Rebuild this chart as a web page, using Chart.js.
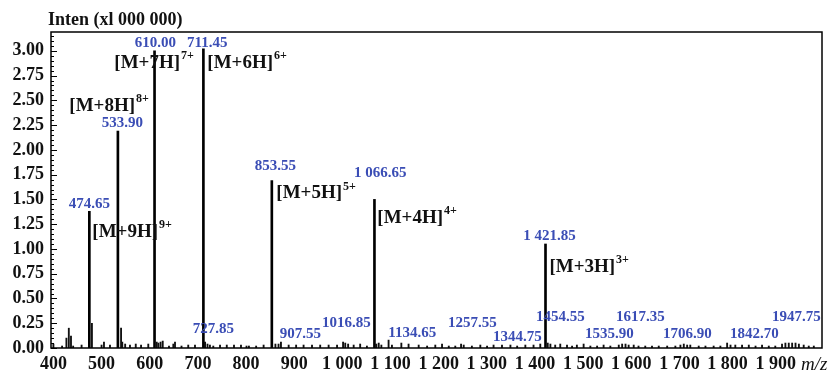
<!DOCTYPE html>
<html>
<head>
<meta charset="utf-8">
<script src="https://cdn.jsdelivr.net/npm/chart.js@4.4.1/dist/chart.umd.min.js"></script>
<style>
  html, body { margin: 0; padding: 0; background: #fff; }
  #wrap { width: 834px; height: 372px; }
</style>
</head>
<body>
<div id="wrap"><canvas id="c" width="834" height="372"></canvas></div>
<script>
// ---- Data ----
const peakMz = [474.65, 533.90, 610.00, 711.45, 853.55, 1066.65, 1421.85];
const peakInt = [1.38, 2.19, 3.00, 3.02, 1.69, 1.50, 1.05];

const noiseMz = [400, 418, 427, 432, 436.5, 441, 458.5, 480, 500, 505, 517.5, 540.5, 543, 549, 559, 571, 582, 597,
  614.5, 618, 622.5, 627, 640, 649, 652.5, 666, 680, 694, 715, 720, 725, 732, 746, 760, 775, 789.5, 801,
  806, 821, 836.5, 861, 867.5, 872.5, 888.5, 904, 919.5, 937, 954, 971.5, 989, 1001.5, 1006, 1012, 1023.5, 1037, 1051,
  1070.5, 1075.5, 1081, 1096, 1103, 1122.5, 1137.5, 1158.5, 1176, 1193, 1207,
  1221, 1234.5, 1246.5, 1252, 1269, 1286.5, 1300.5, 1314, 1331.5, 1349, 1363, 1380, 1397, 1411,
  1426.5, 1432, 1442, 1452.5, 1466.5, 1477, 1487, 1501, 1515, 1529, 1542.5, 1556.5, 1574, 1581, 1588, 1594.5, 1605,
  1615, 1629, 1643, 1657, 1674.5, 1691.5, 1702, 1709, 1716, 1722.5, 1740, 1754, 1771, 1785, 1799, 1806, 1816, 1830, 1844,
  1858, 1871.5, 1885.5, 1899, 1913, 1920, 1927, 1934, 1941, 1948, 1958, 1968.5, 1979];
const noiseInt = [0.04, 0.02, 0.10, 0.20, 0.12, 0.02, 0.03, 0.25, 0.03, 0.06, 0.03, 0.20, 0.06, 0.04, 0.03, 0.04, 0.03, 0.04,
  0.06, 0.05, 0.06, 0.07, 0.02, 0.04, 0.06, 0.02, 0.03, 0.03, 0.06, 0.04, 0.03, 0.02, 0.03, 0.03, 0.03, 0.03, 0.02,
  0.02, 0.02, 0.03, 0.04, 0.04, 0.06, 0.03, 0.03, 0.03, 0.03, 0.03, 0.03, 0.03, 0.06, 0.05, 0.04, 0.03, 0.04, 0.02,
  0.04, 0.05, 0.03, 0.08, 0.03, 0.05, 0.04, 0.03, 0.02, 0.03, 0.04,
  0.02, 0.02, 0.04, 0.03, 0.02, 0.03, 0.02, 0.03, 0.03, 0.03, 0.02, 0.03, 0.03, 0.04,
  0.05, 0.04, 0.03, 0.04, 0.03, 0.02, 0.03, 0.04, 0.02, 0.02, 0.03, 0.02, 0.03, 0.04, 0.04, 0.03, 0.03,
  0.02, 0.02, 0.02, 0.02, 0.02, 0.02, 0.03, 0.04, 0.03, 0.03, 0.02, 0.02, 0.02, 0.02, 0.05, 0.03, 0.03, 0.03, 0.03,
  0.02, 0.03, 0.02, 0.02, 0.04, 0.05, 0.05, 0.05, 0.05, 0.04, 0.03, 0.02, 0.02];

// blue m/z annotations
const mzLabels = ["474.65", "533.90", "610.00", "711.45", "853.55", "1 066.65", "1 421.85", "727.85", "907.55",
  "1016.85", "1134.65", "1257.55", "1344.75", "1454.55", "1535.90", "1617.35", "1706.90", "1842.70", "1947.75"];
const mzLabelX = [474.6, 543.1, 611.6, 719.6, 860.8, 1078.9, 1429.9, 732.1, 912.8,
  1008.3, 1145.3, 1270, 1363.5, 1452.8, 1554.5, 1618.9, 1716.5, 1855.7, 1943];
const mzLabelY = [1.45, 2.27, 3.08, 3.08, 1.84, 1.77, 1.13, 0.19, 0.14,
  0.25, 0.15, 0.25, 0.11, 0.31, 0.14, 0.31, 0.14, 0.14, 0.31];

// ion annotations
const ionText = ["[M+9H]", "[M+8H]", "[M+7H]", "[M+6H]", "[M+5H]", "[M+4H]", "[M+3H]"];
const ionCharge = ["9+", "8+", "7+", "6+", "5+", "4+", "3+"];
const ionX = [480.8, 433, 526.5, 719.6, 862.9, 1072.7, 1429.9];
const ionY = [1.17, 2.44, 2.876, 2.876, 1.56, 1.31, 0.815];

const xTicks = [400, 500, 600, 700, 800, 900, 1000, 1100, 1200, 1300, 1400, 1500, 1600, 1700, 1800, 1900];
const xTickLabels = ["400", "500", "600", "700", "800", "900", "1 000", "1 100", "1 200", "1 300", "1 400",
  "1 500", "1 600", "1 700", "1 800", "1 900"];
const yTicks = [0, 0.25, 0.5, 0.75, 1.0, 1.25, 1.5, 1.75, 2.0, 2.25, 2.5, 2.75, 3.0];
const yTickLabels = ["0.00", "0.25", "0.50", "0.75", "1.00", "1.25", "1.50", "1.75", "2.00", "2.25", "2.50", "2.75", "3.00"];

const yTitle = "Inten (xl 000 000)";
const xTitle = "m/z";

// ---- Chart ----
const SERIF = '"Liberation Serif", "DejaVu Serif", serif';
const BLUE = '#3a4db5';

const annotPlugin = {
  id: 'annot',
  afterDatasetsDraw(chart) {
    const ctx = chart.ctx;
    const xs = chart.scales.x, ys = chart.scales.y;
    const a = chart.chartArea;
    ctx.save();
    // frame
    ctx.strokeStyle = '#000';
    ctx.lineWidth = 1.5;
    ctx.strokeRect(a.left, a.top, a.right - a.left, a.bottom - a.top);
    // y ticks (major + minor), inward
    ctx.lineWidth = 1;
    for (let k = 0; k <= 63; k++) {
      const v = k * 0.05;
      if (v > ys.max) break;
      const py = Math.round(ys.getPixelForValue(v)) + 0.5;
      const len = (k % 5 === 0) ? 6 : 3;
      ctx.beginPath();
      ctx.moveTo(a.left, py);
      ctx.lineTo(a.left + len, py);
      ctx.stroke();
    }
    // blue labels
    ctx.fillStyle = BLUE;
    ctx.font = 'bold 15px ' + SERIF;
    ctx.textAlign = 'center';
    ctx.textBaseline = 'middle';
    mzLabels.forEach((t, i) => {
      ctx.fillText(t, xs.getPixelForValue(mzLabelX[i]), ys.getPixelForValue(mzLabelY[i]));
    });
    // ion labels
    ctx.fillStyle = '#111';
    ctx.textAlign = 'left';
    ionText.forEach((t, i) => {
      const px = xs.getPixelForValue(ionX[i]);
      const py = ys.getPixelForValue(ionY[i]);
      ctx.font = 'bold 19px ' + SERIF;
      ctx.textBaseline = 'middle';
      ctx.fillText(t, px, py);
      const w = ctx.measureText(t).width;
      ctx.font = 'bold 12px ' + SERIF;
      ctx.fillText(ionCharge[i], px + w + 1, py - 7);
    });
    ctx.restore();
  },
  afterDraw(chart) {
    const ctx = chart.ctx;
    ctx.save();
    ctx.fillStyle = '#111';
    ctx.font = 'bold 18px ' + SERIF;
    ctx.textAlign = 'left';
    ctx.textBaseline = 'middle';
    ctx.fillText(yTitle, 48, 20);
    ctx.font = 'italic 19px ' + SERIF;
    ctx.fillText(xTitle, 801, 365);
    ctx.restore();
  }
};

new Chart(document.getElementById('c'), {
  type: 'bar',
  data: {
    datasets: [
      {
        data: peakMz.map((m, i) => ({ x: m, y: peakInt[i] })),
        backgroundColor: '#000',
        borderWidth: 0,
        barThickness: 2,
        grouped: false
      },
      {
        data: noiseMz.map((m, i) => ({ x: m, y: noiseInt[i] })),
        backgroundColor: '#111',
        borderWidth: 0,
        barThickness: 1.2,
        grouped: false
      }
    ]
  },
  options: {
    responsive: false,
    animation: false,
    devicePixelRatio: 1,
    layout: { padding: { top: 32, right: 12, left: 0, bottom: 0 } },
    plugins: { legend: { display: false }, tooltip: { enabled: false } },
    scales: {
      x: {
        type: 'linear',
        min: 395,
        max: 1996,
        offset: false,
        grid: { display: false, drawTicks: false },
        border: { display: false },
        afterBuildTicks(s) { s.ticks = xTicks.map(v => ({ value: v })); },
        afterFit(s) { s.height = 24; },
        ticks: {
          autoSkip: false,
          maxRotation: 0,
          padding: 6,
          color: '#111',
          font: { family: SERIF, size: 18, weight: 'bold' },
          callback(v) { const i = xTicks.indexOf(v); return i >= 0 ? xTickLabels[i] : ''; }
        }
      },
      y: {
        min: 0,
        max: 3.19,
        grid: { display: false, drawTicks: false },
        border: { display: false },
        afterBuildTicks(s) { s.ticks = yTicks.map(v => ({ value: v })); },
        afterFit(s) { s.width = 51; },
        ticks: {
          autoSkip: false,
          padding: 7,
          color: '#111',
          font: { family: SERIF, size: 18, weight: 'bold' },
          callback(v) { const i = yTicks.indexOf(v); return i >= 0 ? yTickLabels[i] : ''; }
        }
      }
    }
  },
  plugins: [annotPlugin]
});
</script>
</body>
</html>
